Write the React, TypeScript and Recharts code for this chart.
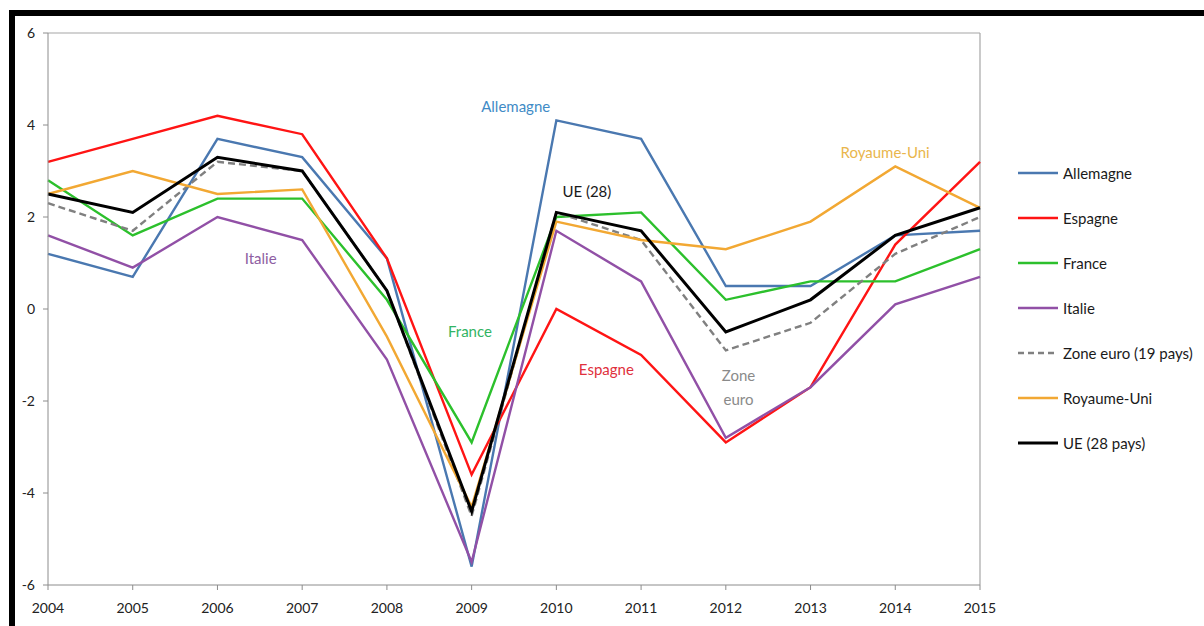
import React from 'react';
import { LineChart, Line, XAxis, YAxis, ReferenceLine, ReferenceDot } from 'recharts';

// Croissance annuelle du PIB en volume (%)
const years = [2004, 2005, 2006, 2007, 2008, 2009, 2010, 2011, 2012, 2013, 2014, 2015];

const allemagne = [1.2, 0.7, 3.7, 3.3, 1.1, -5.6, 4.1, 3.7, 0.5, 0.5, 1.6, 1.7];
const espagne = [3.2, 3.7, 4.2, 3.8, 1.1, -3.6, 0.0, -1.0, -2.9, -1.7, 1.4, 3.2];
const france = [2.8, 1.6, 2.4, 2.4, 0.2, -2.9, 2.0, 2.1, 0.2, 0.6, 0.6, 1.3];
const italie = [1.6, 0.9, 2.0, 1.5, -1.1, -5.5, 1.7, 0.6, -2.8, -1.7, 0.1, 0.7];
const zoneEuro = [2.3, 1.7, 3.2, 3.0, 0.4, -4.5, 2.1, 1.5, -0.9, -0.3, 1.2, 2.0];
const royaumeUni = [2.5, 3.0, 2.5, 2.6, -0.6, -4.3, 1.9, 1.5, 1.3, 1.9, 3.1, 2.2];
const ue28 = [2.5, 2.1, 3.3, 3.0, 0.4, -4.4, 2.1, 1.7, -0.5, 0.2, 1.6, 2.2];

const yTicks = [-6, -4, -2, 0, 2, 4, 6];

const seriesNames = [
  'Allemagne',
  'Espagne',
  'France',
  'Italie',
  'Zone euro (19 pays)',
  'Royaume-Uni',
  'UE (28 pays)',
];

const seriesKeys = ['allemagne', 'espagne', 'france', 'italie', 'zoneEuro', 'royaumeUni', 'ue28'];
const seriesValues = [allemagne, espagne, france, italie, zoneEuro, royaumeUni, ue28];

const data = years.map((year, i) => {
  const row: Record<string, number> = { year };
  seriesKeys.forEach((k, s) => {
    row[k] = seriesValues[s][i];
  });
  return row;
});

const styles: Record<string, { color: string; width: number; dash?: string }> = {
  allemagne: { color: '#4a78b0', width: 2.4 },
  espagne: { color: '#ff1414', width: 2.4 },
  france: { color: '#2cc02c', width: 2.4 },
  italie: { color: '#9150a6', width: 2.4 },
  zoneEuro: { color: '#808080', width: 2.4, dash: '7 4' },
  royaumeUni: { color: '#f2a833', width: 2.4 },
  ue28: { color: '#000000', width: 3 },
};

// In-plot labels, placed in data coordinates (year, %)
const notes = [
  { text: 'Allemagne', x: 2009.52, y: 4.41, color: '#3f8bc6' },
  { text: 'UE (28)', x: 2010.36, y: 2.57, color: '#1a1a1a' },
  { text: 'Royaume-Uni', x: 2013.88, y: 3.41, color: '#e9b64c' },
  { text: 'Italie', x: 2006.51, y: 1.11, color: '#8e5ea2' },
  { text: 'France', x: 2008.98, y: -0.48, color: '#31b463' },
  { text: 'Espagne', x: 2010.59, y: -1.3, color: '#e0303c' },
  { text: 'Zone', x: 2012.15, y: -1.44, color: '#8a8a8a' },
  { text: 'euro', x: 2012.15, y: -1.96, color: '#8a8a8a' },
];

const FONT = 'Lato, "Open Sans", sans-serif';

function SeriesLegend() {
  return (
    <div
      style={{
        position: 'absolute',
        left: 1018,
        top: 150,
        fontFamily: FONT,
        fontSize: 15,
        color: '#1a1a1a',
      }}
    >
      {seriesKeys.map((k, i) => {
        const st = styles[k];
        return (
          <div key={k} style={{ display: 'flex', alignItems: 'center', height: 45 }}>
            <svg width={44} height={10} style={{ marginRight: 1 }}>
              <line
                x1={0}
                y1={5}
                x2={40}
                y2={5}
                stroke={st.color}
                strokeWidth={k === 'ue28' ? 3 : 2.4}
                strokeDasharray={st.dash ? '6 4' : undefined}
              />
            </svg>
            <span style={{ whiteSpace: 'nowrap' }}>{seriesNames[i]}</span>
          </div>
        );
      })}
    </div>
  );
}

export default function App() {
  return (
    <div
      style={{
        position: 'absolute',
        top: 0,
        left: 0,
        width: 1204,
        height: 626,
        background: '#fff',
        overflow: 'hidden',
      }}
    >
      <div
        style={{
          position: 'absolute',
          top: 10,
          left: 9,
          width: 1210,
          height: 640,
          borderTop: '6px solid #000',
          borderLeft: '6px solid #000',
        }}
      />
      <div style={{ position: 'absolute', top: 0, left: 0 }}>
        <LineChart width={1204} height={626} data={data} margin={{ top: 33, right: 224, bottom: 0, left: 7 }}>
          <XAxis
            dataKey="year"
            type="number"
            domain={[2004, 2015]}
            ticks={years}
            height={41}
            tickSize={5}
            tickMargin={13}
            stroke="#8c8c8c"
            tick={{ fill: '#222', fontSize: 14, fontFamily: FONT }}
          />
          <YAxis
            domain={[-6, 6]}
            ticks={yTicks}
            width={41}
            tickSize={5}
            tickMargin={8}
            stroke="#8c8c8c"
            tick={{ fill: '#222', fontSize: 14, fontFamily: FONT }}
          />
          <ReferenceLine y={6} stroke="#a6a6a6" strokeWidth={1.2} />
          <ReferenceLine x={2015} stroke="#a6a6a6" strokeWidth={1.2} />
          {seriesKeys.map((k) => (
            <Line
              key={k}
              dataKey={k}
              type="linear"
              stroke={styles[k].color}
              strokeWidth={styles[k].width}
              strokeDasharray={styles[k].dash}
              dot={false}
              activeDot={false}
              isAnimationActive={false}
            />
          ))}
          {notes.map((n) => (
            <ReferenceDot
              key={n.text}
              x={n.x}
              y={n.y}
              r={0}
              ifOverflow="visible"
              shape={(p: any) => (
                <text
                  x={p.cx}
                  y={p.cy}
                  textAnchor="middle"
                  dominantBaseline="central"
                  fill={n.color}
                  fontSize={15}
                  fontFamily={FONT}
                >
                  {n.text}
                </text>
              )}
            />
          ))}
        </LineChart>
      </div>
      <SeriesLegend />
    </div>
  );
}
